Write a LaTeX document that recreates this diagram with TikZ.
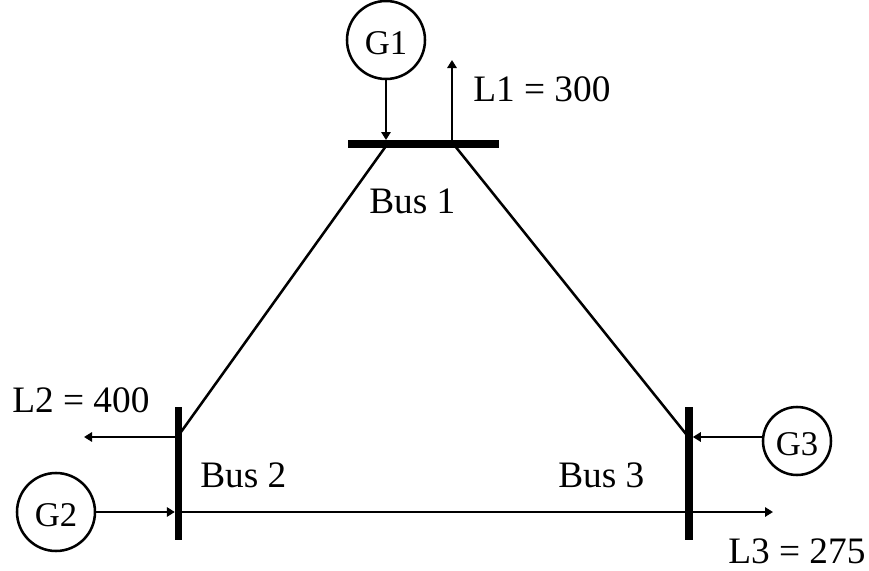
\documentclass[tikz,border=0pt]{standalone}
\usepackage{fontspec}
\setmainfont{Liberation Serif}
\usetikzlibrary{arrows.meta}
\tikzset{
  gen/.style={draw=black,circle,line width=1.9pt,minimum size=#1,inner sep=0pt},
  busbar/.style={fill=black,inner sep=0pt,outer sep=0pt},
  wire/.style={line width=1.9pt,black},
  flow/.style={wire,-{Triangle[length=6pt,width=7pt]}},
  lab/.style={font=\fontsize{28pt}{30pt}\selectfont,inner sep=0pt,anchor=base west},
  gtext/.style={font=\fontsize{26pt}{28pt}\selectfont,inner sep=0pt,anchor=base}
}
\begin{document}
\begin{tikzpicture}[x=0.75pt,y=-0.75pt]
\useasboundingbox (0,0) rectangle (869,571);
\node[busbar,minimum width=113.25pt,minimum height=6pt] (bus1) at (423.5,144) {};
\node[busbar,minimum width=5.5pt,minimum height=99.75pt] (bus2) at (178.5,473.5) {};
\node[busbar,minimum width=5.75pt,minimum height=99.75pt] (bus3) at (689,473.5) {};
\node[gen=58.5pt] (g1) at (386,40) {};
\node[gen=58.5pt] (g2) at (56,512) {};
\node[gen=51pt] (g3) at (797,441) {};
\node[gtext] at (386,54) {G1};
\node[gtext] at (56,526) {G2};
\node[gtext] at (797,455) {G3};
\coordinate (l1) at (452,60);
\coordinate (l2) at (84,437);
\coordinate (l3) at (773,512);
\coordinate (g3in) at (763.3,437);
\coordinate (b1l) at (386,146);
\coordinate (b1r) at (455,146);
\coordinate (b2t) at (181,432);
\coordinate (b3t) at (686,434);
\draw[flow] (g1.south) -- (g1.south |- bus1.north);
\draw[flow] (l1 |- bus1.center) -- (l1);
\draw[flow] (bus2.center |- l2) -- (l2);
\draw[flow] (g2.east) -- (bus2.west |- g2.east);
\draw[flow] (bus2.center |- l3) -- (l3);
\draw[flow] (g3in) -- (bus3.east |- g3in);
\draw[wire] (b1l) -- (b2t);
\draw[wire] (b1r) -- (b3t);
\node[lab] at (473,101) {L1 = 300};
\node[lab] at (369,213) {Bus 1};
\node[lab] at (12,412) {L2 = 400};
\node[lab] at (200,487) {Bus 2};
\node[lab] at (558,487) {Bus 3};
\node[lab] at (728,563) {L3 = 275};
\end{tikzpicture}
\end{document}
